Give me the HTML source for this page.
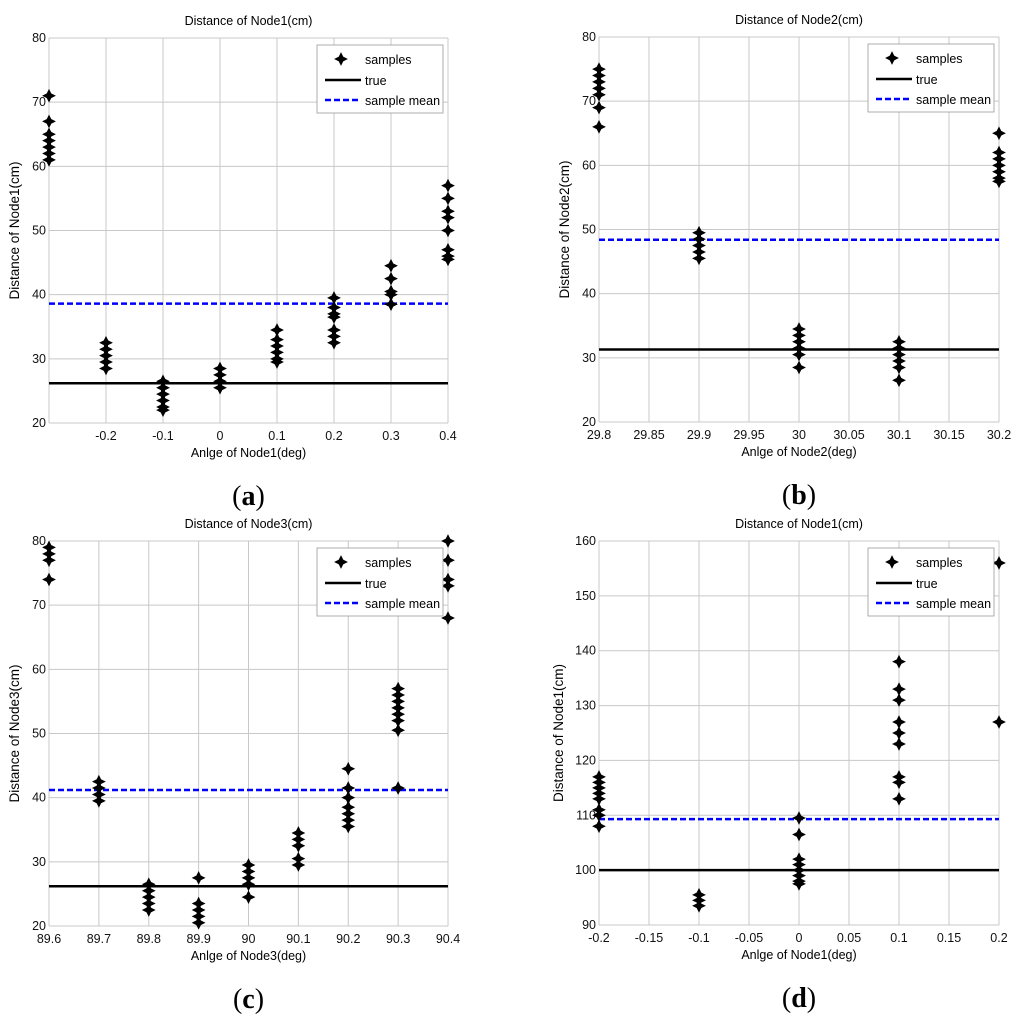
<!DOCTYPE html>
<html><head><meta charset="utf-8"><style>
body{margin:0;background:#fff;width:1024px;height:1031px;overflow:hidden}
svg text{font-family:"Liberation Sans",Arial,sans-serif}
</style></head><body>
<svg id="fig" width="1024" height="1031" xmlns="http://www.w3.org/2000/svg"></svg>
<script>
// ---- Panel (a) data ----
const aX = [-0.3,-0.2,-0.1,0,0.1,0.2,0.3,0.4];
const aY = [[71,67,65,64,63,62,61],[32.5,31.5,30.5,29.5,28.5],[26.5,25.5,24.5,23.5,22.5,22],[28.5,27.5,26.5,25.5],[34.5,33,32,31,30,29.5],[39.5,38,37,36.5,34.5,33.5,32.5],[44.5,42.5,40.5,40,38.5],[57,55,53,52,50,47,46,45.5]];
const aXTicks = ["-0.2","-0.1","0","0.1","0.2","0.3","0.4"];
const aYTicks = [20,30,40,50,60,70,80];
const aTrue = 26.2, aMean = 38.6;
// ---- Panel (b) data ----
const bX = [29.8,29.9,30,30.1,30.2];
const bY = [[75,74,73,72,71,69,66],[49.5,48.5,47.5,46.5,45.5],[34.5,33.5,32.5,31.5,30.5,28.5],[32.5,31.5,30.5,29.5,28.5,26.5],[65,62,61,60,59,58,57.5]];
const bXTicks = ["29.8","29.85","29.9","29.95","30","30.05","30.1","30.15","30.2"];
const bYTicks = [20,30,40,50,60,70,80];
const bTrue = 31.3, bMean = 48.4;
// ---- Panel (c) data ----
const cX = [89.6,89.7,89.8,89.9,90,90.1,90.2,90.3,90.4];
const cY = [[79,78,77,74],[42.5,41.5,40.5,39.5],[26.5,25.5,24.5,23.5,22.5],[27.5,23.5,22.5,21.5,20.5],[29.5,28.5,27.5,26.5,24.5],[34.5,33.5,32.5,30.5,29.5],[44.5,41.5,40,38.5,37.5,36.5,35.5],[57,56,55,54,53,52,50.5,41.5],[80,77,74,73,68]];
const cXTicks = ["89.6","89.7","89.8","89.9","90","90.1","90.2","90.3","90.4"];
const cYTicks = [20,30,40,50,60,70,80];
const cTrue = 26.2, cMean = 41.2;
// ---- Panel (d) data ----
const dX = [-0.2,-0.1,0,0.1,0.2];
const dY = [[117,116,115,114,113,111,110,108],[95.5,94.5,93.5],[109.5,106.5,102,101,100,99,98,97.5],[138,133,131,127,125,123,117,116,113],[156,127]];
const dXTicks = ["-0.2","-0.15","-0.1","-0.05","0","0.05","0.1","0.15","0.2"];
const dYTicks = [90,100,110,120,130,140,150,160];
const dTrue = 100, dMean = 109.3;

const NS="http://www.w3.org/2000/svg";
const svg=document.getElementById('fig');
function mk(tag,attrs,parent,text){const e=document.createElementNS(NS,tag);for(const k in attrs)e.setAttribute(k,attrs[k]);if(text!==undefined)e.textContent=text;(parent||svg).appendChild(e);return e;}

function panel(o){
  const g=mk('g',{});
  
  
  const sx=v=>o.L+(v-o.x0)/(o.x1-o.x0)*(o.R-o.L);
  const sy=v=>o.B-(v-o.y0)/(o.y1-o.y0)*(o.B-o.T);
  o.xt.forEach(t=>{const x=sx(parseFloat(t));
    const l=mk('line',{x1:x,x2:x,y1:o.T,y2:o.B,stroke:'#c8c8c8','stroke-width':1},g);
    
    const tx=mk('text',{x:x,y:o.B+17,'font-size':12.5,'text-anchor':'middle',fill:'#111'},g,t);
    
  });
  if(o.extraX!==undefined){mk('line',{x1:sx(o.extraX),x2:sx(o.extraX),y1:o.T,y2:o.B,stroke:'#c8c8c8'},g);}
  o.yt.forEach(t=>{const y=sy(t);
    const l=mk('line',{x1:o.L,x2:o.R,y1:y,y2:y,stroke:'#c8c8c8','stroke-width':1},g);
    
    const tx=mk('text',{x:o.L-3,y:y+4,'font-size':12.5,'text-anchor':'end',fill:'#111'},g,String(t));
    
  });
  const tl=mk('line',{x1:o.L,x2:o.R,y1:sy(o.tr),y2:sy(o.tr),stroke:'#000','stroke-width':2.5},g);
  
  const ml=mk('line',{x1:o.L,x2:o.R,y1:sy(o.mn),y2:sy(o.mn),stroke:'#0000ff','stroke-width':2.5,'stroke-dasharray':'6,3'},g);
  
  const star='m0,-6 l2,4 4,2 -4,2 -2,4 -2,-4 -4,-2 4,-2z';
  o.xs.forEach((xv,i)=>{o.ys[i].forEach(yv=>{
    const p=mk('path',{d:'M'+sx(xv)+','+sy(yv)+star,fill:'#000',stroke:'#000','stroke-width':0.8},g);
    
  });});
  const t1=mk('text',{x:(o.L+o.R)/2,y:o.T-13,'font-size':12.5,'text-anchor':'middle'},g,o.title);
  
  const t2=mk('text',{x:(o.L+o.R)/2,y:o.B+34,'font-size':12.5,'text-anchor':'middle'},g,o.xlab);
  
  const cy=(o.T+o.B)/2, cx=o.L-(o.ylx);
  const t3=mk('text',{x:cx,y:cy,'font-size':13.5,'text-anchor':'middle',transform:'rotate(-90 '+cx+' '+cy+')'},g,o.ylab);
  
  const t4=mk('text',{x:(o.L+o.R)/2,y:o.B+82,'font-size':28,'text-anchor':'middle'},g);
  
  t4.style.fontFamily='"Liberation Serif",serif';
  mk('tspan',{},t4,'(');mk('tspan',{'font-weight':'bold'},t4,o.id);mk('tspan',{},t4,')');
  const lg=mk('g',{},g);
  
  const lx=o.R-131, ly=o.T+7;
  mk('rect',{x:lx,y:ly,width:126,height:68,fill:'#fff',stroke:'#999','stroke-width':0.8},lg);
  mk('path',{d:'M'+(lx+24)+','+(ly+14)+star,fill:'#000',stroke:'#000','stroke-width':0.8},lg);
  mk('text',{x:lx+48,y:ly+19,'font-size':12.5},lg,'samples');
  mk('line',{x1:lx+8,x2:lx+44,y1:ly+35,y2:ly+35,stroke:'#000','stroke-width':2.5},lg);
  mk('text',{x:lx+48,y:ly+40,'font-size':12.5},lg,'true');
  mk('line',{x1:lx+8,x2:lx+44,y1:ly+55,y2:ly+55,stroke:'#0000ff','stroke-width':2.5,'stroke-dasharray':'6,3'},lg);
  mk('text',{x:lx+48,y:ly+60,'font-size':12.5},lg,'sample mean');
}
panel({id:'a',L:49,R:448,T:38,B:423,x0:-0.3,x1:0.4,y0:20,y1:80,xs:aX,ys:aY,xt:aXTicks,extraX:-0.3,yt:aYTicks,tr:aTrue,mn:aMean,title:'Distance of Node1(cm)',xlab:'Anlge of Node1(deg)',ylab:'Distance of Node1(cm)',ylx:30});
panel({id:'b',L:599,R:999,T:37,B:422,x0:29.8,x1:30.2,y0:20,y1:80,xs:bX,ys:bY,xt:bXTicks,yt:bYTicks,tr:bTrue,mn:bMean,title:'Distance of Node2(cm)',xlab:'Anlge of Node2(deg)',ylab:'Distance of Node2(cm)',ylx:30});
panel({id:'c',L:49,R:448,T:541,B:926,x0:89.6,x1:90.4,y0:20,y1:80,xs:cX,ys:cY,xt:cXTicks,yt:cYTicks,tr:cTrue,mn:cMean,title:'Distance of Node3(cm)',xlab:'Anlge of Node3(deg)',ylab:'Distance of Node3(cm)',ylx:30});
panel({id:'d',L:599,R:999,T:541,B:925,x0:-0.2,x1:0.2,y0:90,y1:160,xs:dX,ys:dY,xt:dXTicks,yt:dYTicks,tr:dTrue,mn:dMean,title:'Distance of Node1(cm)',xlab:'Anlge of Node1(deg)',ylab:'Distance of Node1(cm)',ylx:36});
</script>
</body></html>
